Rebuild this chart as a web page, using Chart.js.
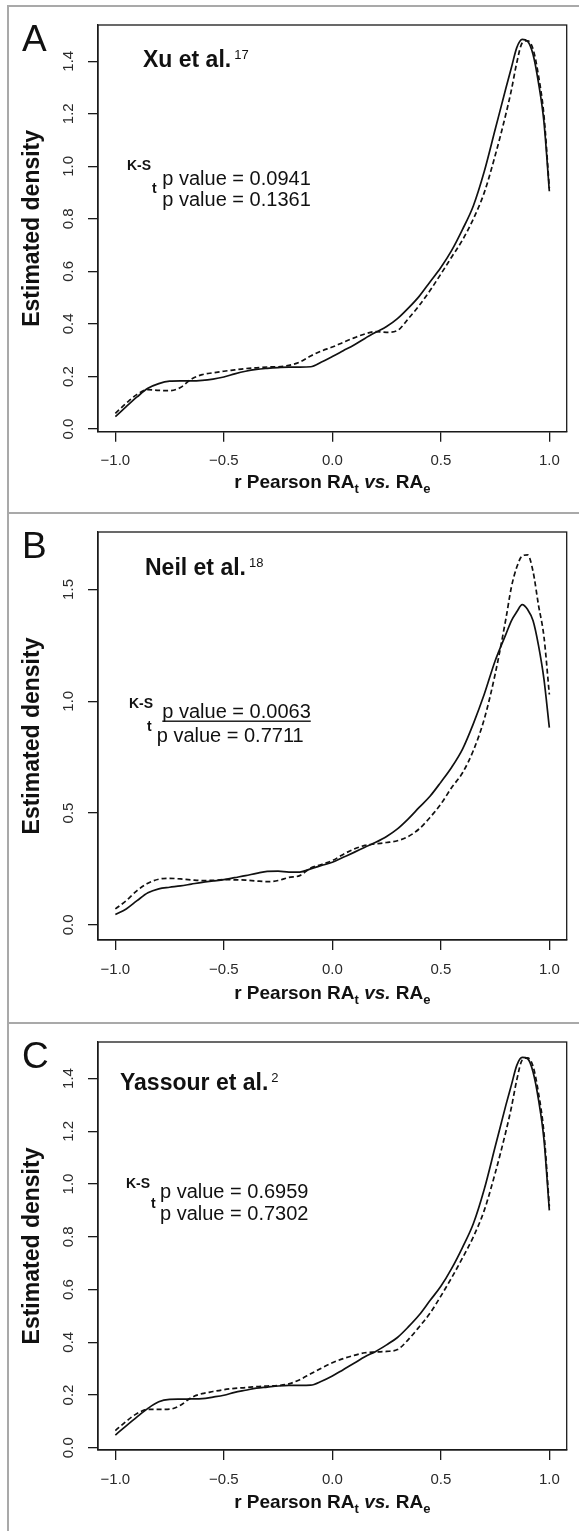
<!DOCTYPE html>
<html><head><meta charset="utf-8">
<script src="https://cdn.jsdelivr.net/npm/chart.js@4.4.1/dist/chart.umd.min.js"></script>
<style>
html,body{margin:0;padding:0;background:#fff;}
body{width:579px;height:1531px;position:relative;overflow:hidden;}
.pane{position:absolute;left:0;width:579px;}
.ln{position:absolute;background:#a9a9a9;z-index:5;}
canvas{display:block;}
</style></head><body>
<div class="pane" style="top:7px;height:505px"><canvas id="cA" width="579" height="505"></canvas></div>
<div class="pane" style="top:514px;height:508px"><canvas id="cB" width="579" height="508"></canvas></div>
<div class="pane" style="top:1024px;height:507px"><canvas id="cC" width="579" height="507"></canvas></div>
<div class="ln" style="left:7px;top:5px;width:2px;height:1526px"></div>
<div class="ln" style="left:7px;top:5px;width:572px;height:2px"></div>
<div class="ln" style="left:7px;top:512px;width:572px;height:2px"></div>
<div class="ln" style="left:7px;top:1022px;width:572px;height:2px"></div>
<script>
// ---------- data ----------
const xs = [-1, -0.95, -0.9, -0.85, -0.8, -0.75, -0.7, -0.65, -0.6, -0.55, -0.5, -0.45, -0.4, -0.35, -0.3, -0.25, -0.2, -0.15, -0.1, -0.05, 0, 0.05, 0.1, 0.15, 0.2, 0.25, 0.3, 0.35, 0.4, 0.45, 0.5, 0.55, 0.6, 0.65, 0.7, 0.75, 0.8, 0.825, 0.85, 0.875, 0.9, 0.925, 0.95, 0.975, 1];

const xuSolid = [0.047, 0.085, 0.122, 0.155, 0.173, 0.182, 0.183, 0.183, 0.185, 0.19, 0.198, 0.21, 0.22, 0.227, 0.231, 0.234, 0.236, 0.236, 0.237, 0.255, 0.276, 0.298, 0.32, 0.345, 0.368, 0.39, 0.42, 0.46, 0.505, 0.56, 0.615, 0.68, 0.76, 0.85, 0.98, 1.139, 1.298, 1.375, 1.452, 1.483, 1.476, 1.426, 1.318, 1.17, 0.905];
const xuDashed = [0.06, 0.098, 0.132, 0.15, 0.147, 0.146, 0.158, 0.19, 0.207, 0.214, 0.22, 0.225, 0.23, 0.233, 0.236, 0.237, 0.242, 0.255, 0.278, 0.297, 0.312, 0.33, 0.347, 0.362, 0.371, 0.368, 0.375, 0.42, 0.47, 0.527, 0.59, 0.655, 0.72, 0.8, 0.9, 1.04, 1.2, 1.29, 1.395, 1.47, 1.478, 1.446, 1.345, 1.195, 0.917];

const neilSolid = [0.046, 0.071, 0.108, 0.143, 0.161, 0.168, 0.174, 0.182, 0.19, 0.196, 0.202, 0.211, 0.22, 0.23, 0.239, 0.24, 0.236, 0.236, 0.25, 0.265, 0.28, 0.302, 0.324, 0.347, 0.369, 0.395, 0.429, 0.474, 0.525, 0.575, 0.638, 0.705, 0.786, 0.9, 1.031, 1.18, 1.3, 1.36, 1.4, 1.432, 1.41, 1.36, 1.25, 1.1, 0.882];
const neilDashed = [0.071, 0.108, 0.153, 0.186, 0.204, 0.208, 0.205, 0.201, 0.198, 0.199, 0.202, 0.201, 0.2, 0.196, 0.193, 0.198, 0.212, 0.22, 0.254, 0.27, 0.287, 0.315, 0.339, 0.355, 0.362, 0.368, 0.376, 0.395, 0.429, 0.48, 0.54, 0.614, 0.68, 0.78, 0.92, 1.12, 1.37, 1.51, 1.6, 1.65, 1.655, 1.58, 1.43, 1.29, 1.03];

const yassourSolid = [0.048, 0.083, 0.117, 0.149, 0.174, 0.183, 0.184, 0.185, 0.186, 0.192, 0.199, 0.21, 0.218, 0.226, 0.23, 0.234, 0.236, 0.236, 0.237, 0.252, 0.272, 0.296, 0.32, 0.345, 0.365, 0.39, 0.418, 0.458, 0.503, 0.558, 0.612, 0.68, 0.76, 0.85, 0.98, 1.14, 1.3, 1.375, 1.45, 1.48, 1.475, 1.425, 1.32, 1.17, 0.9];
const yassourDashed = [0.065, 0.1, 0.13, 0.145, 0.145, 0.146, 0.161, 0.19, 0.205, 0.213, 0.22, 0.225, 0.228, 0.232, 0.234, 0.236, 0.242, 0.258, 0.28, 0.302, 0.322, 0.338, 0.35, 0.36, 0.363, 0.365, 0.372, 0.41, 0.458, 0.51, 0.575, 0.645, 0.72, 0.8, 0.9, 1.04, 1.2, 1.29, 1.395, 1.47, 1.478, 1.446, 1.345, 1.195, 0.915];

const xTicks = [-1, -0.5, 0, 0.5, 1];
const yTicksAC = [0, 0.2, 0.4, 0.6, 0.8, 1.0, 1.2, 1.4];
const yTicksB = [0, 0.5, 1.0, 1.5];

const panelLetters = ['A', 'B', 'C'];
const studyNames = ['Xu et al.', 'Neil et al.', 'Yassour et al.'];
const refNumbers = ['17', '18', '2'];
const ksPValues = ['0.0941', '0.0063', '0.6959'];
const tPValues = ['0.1361', '0.7711', '0.7302'];
const yTitle = 'Estimated density';

// ---------- drawing ----------
const FONT = "'Liberation Sans', Arial, Helvetica, sans-serif";
const INK = '#111';

function fmtX(v) { return (v < 0 ? '\u2212' : '') + Math.abs(v).toFixed(1); }

function richWidth(ctx, parts) {
  let w = 0;
  parts.forEach(p => { ctx.font = p.font; w += ctx.measureText(p.t).width; });
  return w;
}
function drawRich(ctx, parts, x, y, align) {
  let cx = align === 'center' ? x - richWidth(ctx, parts) / 2 : x;
  parts.forEach(p => {
    ctx.font = p.font;
    ctx.fillText(p.t, cx, y + (p.dy || 0));
    cx += ctx.measureText(p.t).width;
  });
  return cx;
}

const boxPlugin = {
  id: 'box',
  beforeDatasetsDraw(chart) {
    const { ctx, chartArea: a } = chart;
    ctx.save();
    ctx.strokeStyle = '#1a1a1a';
    ctx.lineWidth = 1.3;
    ctx.strokeRect(a.left, a.top, a.right - a.left, a.bottom - a.top);
    ctx.restore();
  }
};

function annotPlugin(i, L) {
  return {
    id: 'annot' + i,
    afterDraw(chart) {
      const ctx = chart.ctx, a = chart.chartArea;
      const o = L.top;
      ctx.save();
      ctx.fillStyle = INK;
      ctx.textBaseline = 'alphabetic';
      ctx.textAlign = 'left';
      // panel letter
      ctx.font = `37px ${FONT}`;
      ctx.fillText(panelLetters[i], L.letter[0], L.letter[1] - o);
      // study title with reference superscript
      ctx.font = `bold 23px ${FONT}`;
      ctx.fillText(studyNames[i], L.study[0], L.study[1] - o);
      const sw = ctx.measureText(studyNames[i]).width;
      ctx.font = `13px ${FONT}`;
      ctx.fillText(refNumbers[i], L.study[0] + sw + 3, L.study[1] - 8 - o);
      // K-S p value
      ctx.font = `bold 14px ${FONT}`;
      ctx.fillText('K-S', L.ks[0], L.ks[1] - o);
      ctx.font = `20px ${FONT}`;
      const t1 = 'p value = ' + ksPValues[i];
      ctx.fillText(t1, L.p1[0], L.p1[1] - o);
      if (L.underline) {
        const w = ctx.measureText(t1).width;
        ctx.fillRect(L.p1[0], L.p1[1] - o + 2.2, w, 1.4);
      }
      ctx.font = `bold 14px ${FONT}`;
      ctx.fillText('t', L.t[0], L.t[1] - o);
      ctx.font = `20px ${FONT}`;
      ctx.fillText('p value = ' + tPValues[i], L.p2[0], L.p2[1] - o);
      // x-axis title
      const B = `bold 19px ${FONT}`, S = `bold 13px ${FONT}`, I = `italic bold 19px ${FONT}`;
      ctx.textBaseline = 'middle';
      drawRich(ctx, [
        { t: 'r Pearson RA', font: B },
        { t: 't', font: S, dy: 6 },
        { t: ' ', font: B },
        { t: 'vs.', font: I },
        { t: ' RA', font: B },
        { t: 'e', font: S, dy: 6 }
      ], (a.left + a.right) / 2, L.xTitleY - o, 'center');
      ctx.restore();
    }
  };
}

function makeChart(i, id, solid, dashed, L) {
  const axisGrid = { display: true, drawOnChartArea: false, drawTicks: true, tickLength: 10, color: '#1a1a1a', lineWidth: 1.3 };
  const axisBorder = { display: true, color: '#1a1a1a', width: 1.3 };
  return new Chart(document.getElementById(id), {
    type: 'line',
    data: {
      datasets: [
        { data: xs.map((x, k) => ({ x, y: solid[k] })), borderColor: INK, borderWidth: 1.7, pointRadius: 0, cubicInterpolationMode: 'monotone', fill: false },
        { data: xs.map((x, k) => ({ x, y: dashed[k] })), borderColor: INK, borderWidth: 1.7, borderDash: [5, 3], pointRadius: 0, cubicInterpolationMode: 'monotone', fill: false }
      ]
    },
    options: {
      responsive: false, animation: false, devicePixelRatio: 1,
      layout: { padding: { left: 0, right: 12.3, top: L.chartTop - L.top, bottom: 0 } },
      plugins: { legend: { display: false }, tooltip: { enabled: false } },
      scales: {
        x: {
          type: 'linear', min: -1.08, max: 1.08,
          afterBuildTicks: s => { s.ticks = xTicks.map(v => ({ value: v })); },
          afterFit: s => { s.height = L.top + L.h - L.chartBottom; },
          grid: axisGrid, border: axisBorder,
          ticks: { padding: 10.5, autoSkip: false, minRotation: 0, maxRotation: 0, color: '#2a2a2a', font: { family: FONT, size: 15 }, callback: v => fmtX(v) }
        },
        y: {
          type: 'linear', min: L.ymin, max: L.ymax,
          afterBuildTicks: s => { s.ticks = L.yTicks.map(v => ({ value: v })); },
          afterFit: s => { s.width = 98; },
          grid: axisGrid, border: axisBorder,
          ticks: { padding: 9, crossAlign: 'center', autoSkip: false, minRotation: 90, maxRotation: 90, color: '#2a2a2a', font: { family: FONT, size: 15 }, callback: v => Number(v).toFixed(1) },
          title: { display: true, text: yTitle, color: INK, font: { family: FONT, size: 23, weight: 'bold' }, padding: { top: 19, bottom: 0 } }
        }
      }
    },
    plugins: [boxPlugin, annotPlugin(i, L)]
  });
}

const layoutA = { top: 7, h: 505, chartTop: 22.7, chartBottom: 431.7, ymin: -0.0102, ymax: 1.538, yTicks: yTicksAC,
  letter: [22, 51], study: [143, 66.7], ks: [127, 170], p1: [162.3, 185], t: [152, 193], p2: [162.3, 205.7], xTitleY: 483, underline: false };
const layoutB = { top: 514, h: 508, chartTop: 531, chartBottom: 940, ymin: -0.068, ymax: 1.757, yTicks: yTicksB,
  letter: [22, 558], study: [145, 575], ks: [129, 708], p1: [162.3, 718.3], t: [147, 731], p2: [156.7, 741.7], xTitleY: 994, underline: true };
const layoutC = { top: 1024, h: 507, chartTop: 1040, chartBottom: 1450, ymin: -0.0087, ymax: 1.5385, yTicks: yTicksAC,
  letter: [22, 1068], study: [120, 1090], ks: [126, 1188], p1: [160, 1198.3], t: [151, 1208], p2: [160, 1220], xTitleY: 1503, underline: false };

makeChart(0, 'cA', xuSolid, xuDashed, layoutA);
makeChart(1, 'cB', neilSolid, neilDashed, layoutB);
makeChart(2, 'cC', yassourSolid, yassourDashed, layoutC);
</script>
</body></html>
